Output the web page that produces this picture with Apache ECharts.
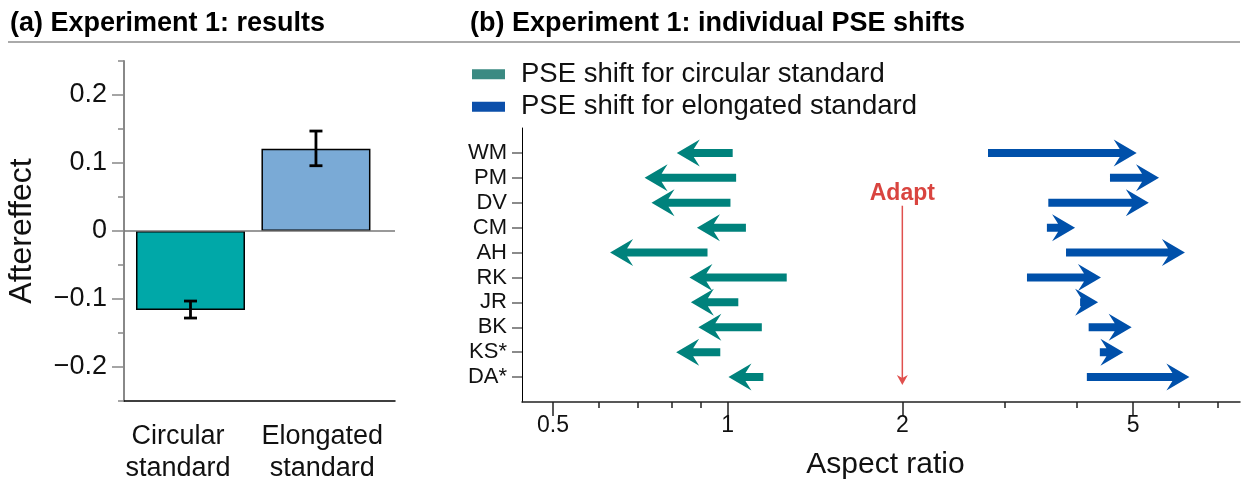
<!DOCTYPE html>
<html>
<head>
<meta charset="utf-8">
<script src="https://cdn.jsdelivr.net/npm/echarts@6/dist/echarts.min.js"></script>
<style>html,body{margin:0;padding:0;background:#fff;}#c{width:1248px;height:485px;}</style>
</head>
<body>
<div id="c"></div>
<script>
// ---------- data ----------
const categories = ['Circular\nstandard', 'Elongated\nstandard'];
const barX = [1, 2];
const aftereffect = [-0.116, 0.121];
const errLow = [-0.128, 0.096];
const errHigh = [-0.103, 0.147];
const yTicksA = [-0.2, -0.1, 0, 0.1, 0.2];

const subjects = ['WM', 'PM', 'DV', 'CM', 'AH', 'RK', 'JR', 'BK', 'KS*', 'DA*'];
const circStart = [1.020, 1.034, 1.011, 1.075, 0.923, 1.264, 1.043, 1.145, 0.971, 1.152];
const circEnd   = [0.817, 0.719, 0.739, 0.885, 0.627, 0.859, 0.864, 0.890, 0.815, 1.003];
const elonStart = [2.81, 4.56, 3.57, 3.55, 3.83, 3.28, 4.05, 4.19, 4.38, 4.16];
const elonEnd   = [5.07, 5.54, 5.32, 3.97, 6.14, 4.40, 4.35, 4.97, 4.81, 6.25];
const xTicksB = [0.5, 1, 2, 5];
const xMinorTicksB = [0.6, 0.7, 0.8, 0.9, 3, 4, 6, 7];
const adaptRatio = 2;
const adaptSpan = [2.12, 9.32];

const legendNames = ['PSE shift for circular standard', 'PSE shift for elongated standard'];

// ---------- helpers ----------
const FONT = '"Liberation Sans", Arial, Helvetica, sans-serif';
const lg = v => Math.log10(v);
const fmtMinus = v => (v < 0 ? '\u2212' + Math.abs(v) : String(v));

function arrowItem(params, api) {
  const s = api.coord([api.value(0), api.value(2)]);
  const e = api.coord([api.value(1), api.value(2)]);
  const dir = e[0] < s[0] ? -1 : 1;
  const L = 23, H = 13.5, N = 6, w = 4;
  const tx = e[0], cy = e[1];
  const bx = tx - dir * L;
  const nx = tx - dir * (L - N);
  let sx = s[0];
  if ((sx - nx) * (-dir) < 0) sx = nx;
  return {
    type: 'polygon',
    shape: { points: [[tx, cy], [bx, cy - H], [nx, cy - w], [sx, cy - w], [sx, cy + w], [nx, cy + w], [bx, cy + H]] },
    style: { fill: api.visual('color') }
  };
}

const circData = subjects.map((s, i) => [lg(circStart[i]), lg(circEnd[i]), i]);
const elonData = subjects.map((s, i) => [lg(elonStart[i]), lg(elonEnd[i]), i]);

const chart = echarts.init(document.getElementById('c'), null, { renderer: 'canvas' });

const option = {
  animation: false,
  textStyle: { fontFamily: FONT },
  title: [
    { text: '(a) Experiment 1: results', left: 5, top: 5,
      textStyle: { fontFamily: FONT, fontSize: 27, fontWeight: 'bold', color: '#000' } },
    { text: '(b) Experiment 1: individual PSE shifts', left: 465, top: 5,
      textStyle: { fontFamily: FONT, fontSize: 27, fontWeight: 'bold', color: '#000' } }
  ],
  graphic: [
    { type: 'line', shape: { x1: 8, y1: 42, x2: 1240, y2: 42 }, style: { stroke: '#aaaaaa', lineWidth: 2 } }
  ],
  legend: {
    orient: 'vertical', left: 467, top: 53, itemWidth: 33, itemHeight: 10, itemGap: 0,
    icon: 'rect',
    textStyle: { fontFamily: FONT, fontSize: 27.5, lineHeight: 32.5, color: '#111', padding: [0, 0, 0, 11] },
    data: [
      { name: legendNames[0], itemStyle: { color: '#3a8a82' } },
      { name: legendNames[1], itemStyle: { color: '#0b4faa' } }
    ]
  },
  grid: [
    { left: 124, top: 61, width: 271, height: 342 },
    { left: 522, top: 128, width: 718, height: 274 }
  ],
  xAxis: [
    { type: 'value', gridIndex: 0, min: 0.47, max: 2.63, position: 'bottom',
      axisLine: { show: true, onZero: false, lineStyle: { color: '#000', width: 1.5 } },
      axisTick: { show: false }, splitLine: { show: false },
      axisLabel: { customValues: [0.9, 2.05], margin: 20, fontSize: 27, lineHeight: 32, color: '#111',
        formatter: v => (v < 1.5 ? categories[0] : categories[1]) } },
    { type: 'value', gridIndex: 1, min: lg(0.442), max: lg(7.64), position: 'bottom',
      axisLine: { show: true, onZero: false, lineStyle: { color: '#222', width: 1.5 } },
      axisTick: { show: true, customValues: xTicksB.map(lg), length: 14, lineStyle: { color: '#222', width: 1.5 } },
      axisLabel: { customValues: xTicksB.map(lg), margin: 12, fontSize: 23, color: '#111',
        formatter: v => String(parseFloat(Math.pow(10, v).toPrecision(3))) },
      splitLine: { show: false },
      name: 'Aspect ratio', nameLocation: 'middle', nameGap: 48,
      nameTextStyle: { fontFamily: FONT, fontSize: 30, color: '#111', padding: [0, 0, 0, 9] } },
    { type: 'value', gridIndex: 1, min: lg(0.442), max: lg(7.64), position: 'bottom', offset: 0,
      axisLine: { show: false, onZero: false },
      axisTick: { show: true, customValues: xMinorTicksB.map(lg), length: 6, lineStyle: { color: '#222', width: 1.5 } },
      axisLabel: { show: false }, splitLine: { show: false } }
  ],
  yAxis: [
    { type: 'value', gridIndex: 0, min: -0.25, max: 0.25, position: 'left',
      axisLine: { show: true, onZero: false, lineStyle: { color: '#888', width: 2 } },
      axisTick: { show: true, customValues: yTicksA, length: 12, lineStyle: { color: '#888', width: 1.5 } },
      axisLabel: { customValues: yTicksA, margin: 17, fontSize: 27, color: '#111', formatter: fmtMinus },
      splitLine: { show: false },
      name: 'Aftereffect', nameLocation: 'middle', nameGap: 86,
      nameTextStyle: { fontFamily: FONT, fontSize: 32, color: '#111' } },
    { type: 'value', gridIndex: 0, min: -0.25, max: 0.25, interval: 0.05, position: 'left', offset: 0,
      axisLine: { show: false, onZero: false },
      axisTick: { show: true, length: 6, lineStyle: { color: '#888', width: 1.5 } },
      axisLabel: { show: false }, splitLine: { show: false } },
    { type: 'value', gridIndex: 1, min: -1, max: 10, inverse: true, position: 'left',
      axisLine: { show: true, onZero: false, lineStyle: { color: '#000', width: 1 } },
      axisTick: { show: true, customValues: subjects.map((s, i) => i), length: 10, lineStyle: { color: '#666', width: 1.5 } },
      axisLabel: { customValues: subjects.map((s, i) => i), margin: 15, fontSize: 22, color: '#111',
        formatter: v => subjects[Math.round(v)] },
      splitLine: { show: false } }
  ],
  series: [
    { type: 'bar', xAxisIndex: 0, yAxisIndex: 0, barWidth: 109,
      data: barX.map((x, i) => ({ value: [x, aftereffect[i]],
        itemStyle: { color: i === 0 ? '#00a8a8' : '#7aaad6', borderColor: '#000', borderWidth: 1.5 } })),
      markLine: { silent: true, symbol: 'none', label: { show: false },
        lineStyle: { color: '#777', width: 1.5, type: 'solid' }, data: [{ yAxis: 0 }] },
      z: 2 },
    { type: 'custom', xAxisIndex: 0, yAxisIndex: 0, z: 5,
      data: barX.map((x, i) => [x, errLow[i], errHigh[i]]),
      encode: { x: 0, y: [1, 2] },
      renderItem: (params, api) => {
        const lo = api.coord([api.value(0), api.value(1)]);
        const hi = api.coord([api.value(0), api.value(2)]);
        const cw = 6.5;
        const st = { stroke: '#000', lineWidth: 2.8 };
        return { type: 'group', children: [
          { type: 'line', shape: { x1: lo[0], y1: lo[1], x2: hi[0], y2: hi[1] }, style: st },
          { type: 'line', shape: { x1: lo[0] - cw, y1: lo[1], x2: lo[0] + cw, y2: lo[1] }, style: st },
          { type: 'line', shape: { x1: hi[0] - cw, y1: hi[1], x2: hi[0] + cw, y2: hi[1] }, style: st }
        ] };
      } },
    { name: legendNames[0], type: 'custom', xAxisIndex: 1, yAxisIndex: 2, z: 4,
      itemStyle: { color: '#00827c' },
      data: circData, encode: { x: [0, 1], y: 2 }, renderItem: arrowItem },
    { name: legendNames[1], type: 'custom', xAxisIndex: 1, yAxisIndex: 2, z: 4,
      itemStyle: { color: '#0050aa' },
      data: elonData, encode: { x: [0, 1], y: 2 }, renderItem: arrowItem },
    { type: 'custom', xAxisIndex: 1, yAxisIndex: 2, z: 4,
      data: [[lg(adaptRatio), adaptSpan[0], adaptSpan[1]]],
      encode: { x: 0, y: [1, 2] },
      renderItem: (params, api) => {
        const a = api.coord([api.value(0), api.value(1)]);
        const b = api.coord([api.value(0), api.value(2)]);
        const col = '#e0504e';
        return { type: 'group', children: [
          { type: 'line', shape: { x1: a[0], y1: a[1], x2: b[0], y2: b[1] - 6 }, style: { stroke: col, lineWidth: 1.5 } },
          { type: 'polygon', shape: { points: [[b[0], b[1]], [b[0] - 5.5, b[1] - 10], [b[0], b[1] - 7], [b[0] + 5.5, b[1] - 10]] },
            style: { fill: col } },
          { type: 'text', x: a[0], y: a[1] - 12,
            style: { text: 'Adapt', fill: '#d9443f', font: 'bold 23px ' + FONT, align: 'center', verticalAlign: 'middle' } }
        ] };
      } }
  ]
};
chart.setOption(option);
</script>
</body>
</html>
